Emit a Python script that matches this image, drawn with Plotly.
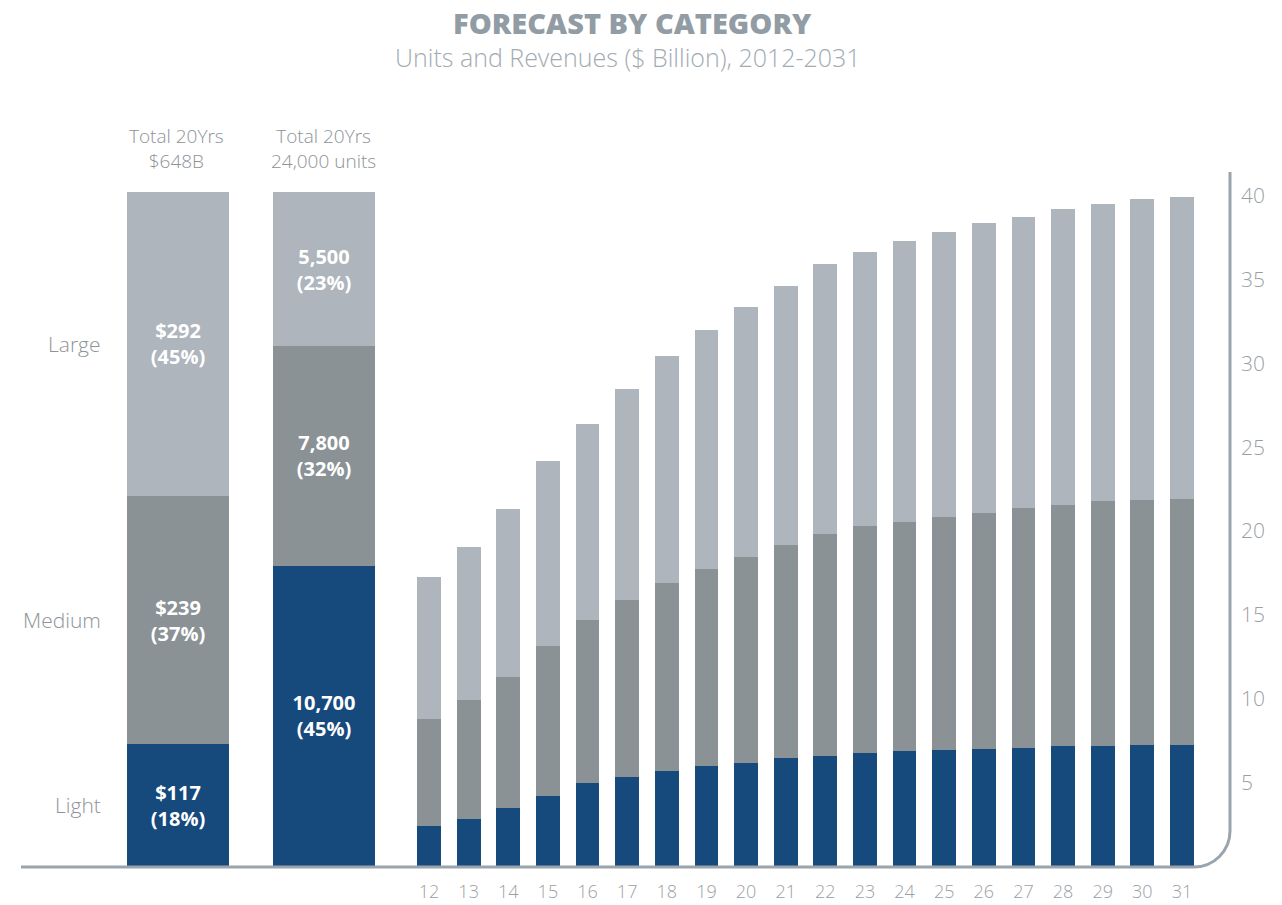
import plotly.graph_objects as go

# ---- data -------------------------------------------------------------
categories = ["Light", "Medium", "Large"]

# 20-year totals per category
revenue_totals = [117, 239, 292]        # $ billion
unit_totals = [10700, 7800, 5500]       # units

# yearly forecast ($ billion), 2012-2031
years = ["12", "13", "14", "15", "16", "17", "18", "19", "20", "21",
         "22", "23", "24", "25", "26", "27", "28", "29", "30", "31"]
light = [2.39, 2.81, 3.46, 4.18, 4.96, 5.31, 5.67, 5.97, 6.15, 6.45,
         6.57, 6.75, 6.87, 6.93, 6.99, 7.04, 7.16, 7.16, 7.22, 7.22]
medium = [6.39, 7.10, 7.82, 8.95, 9.73, 10.57, 11.23, 11.76, 12.30, 12.71,
          13.25, 13.55, 13.67, 13.91, 14.08, 14.33, 14.39, 14.63, 14.63, 14.69]
large = [8.47, 9.13, 10.03, 11.05, 11.70, 12.60, 13.55, 14.27, 14.92, 15.47,
         16.12, 16.36, 16.77, 17.01, 17.32, 17.38, 17.70, 17.73, 17.97, 18.03]
yearly = [light, medium, large]

y_ticks = [5, 10, 15, 20, 25, 30, 35, 40]

# ---- styling ------------------------------------------------------------
colors = ["#174a7c", "#8a9296", "#aeb5bd"]
label_grey = "#8e9398"
axis_grey = "#9aa4ad"
FONT = "Open Sans"

W, H = 1282, 905
L, R, T, B = 20, 54, 172, 39          # plot-area margins (px)
PW, PH = W - L - R, H - T - B
PX_PER_UNIT = 16.75


def px(x):
    return (x - L) / PW


def py(y):
    return (H - B - y) / PH


def note(text, x, y, size, color, weight=300, xanchor="center", yref="paper"):
    fig.add_annotation(
        x=x, xref="paper", y=y, yref=yref, text=text, showarrow=False,
        xanchor=xanchor, yanchor="middle", borderpad=0,
        font=dict(family=FONT, size=size, color=color, weight=weight),
    )


rev_sum = sum(revenue_totals)
unit_sum = sum(unit_totals)
summary_x = ["Revenue", "Units"]

fig = go.Figure()

# summary bars: category shares of the 20-year totals
for i, cat in enumerate(categories):
    r_share = revenue_totals[i] / rev_sum
    u_share = unit_totals[i] / unit_sum
    texts = [
        f"${revenue_totals[i]}<br>({round(r_share * 100)}%)",
        f"{unit_totals[i]:,}<br>({round(u_share * 100)}%)",
    ]
    fig.add_trace(go.Bar(
        x=summary_x, y=[r_share, u_share], name=cat,
        xaxis="x", yaxis="y2", width=0.7,
        marker=dict(color=colors[i], line=dict(width=0)),
        text=texts, textposition="inside", insidetextanchor="middle",
        textangle=0, constraintext="none",
        textfont=dict(family=FONT, size=20, color="white", weight="bold"),
        showlegend=False, hoverinfo="skip",
    ))

# yearly stacked bars
for i, cat in enumerate(categories):
    fig.add_trace(go.Bar(
        x=years, y=yearly[i], name=cat,
        xaxis="x2", yaxis="y", width=0.6,
        marker=dict(color=colors[i], line=dict(width=0)),
        showlegend=False,
    ))

# category labels beside the revenue bar
cum = 0
for i, cat in enumerate(categories):
    share = revenue_totals[i] / rev_sum
    note(cat, px(102), cum + share / 2, 21, label_grey,
         xanchor="right", yref="y2")
    cum += share

# headers over the summary bars
note(f"Total 20Yrs<br>${rev_sum}B", px(176), py(148), 19, label_grey)
note(f"Total 20Yrs<br>{unit_sum:,} units", px(323), py(148), 19, label_grey)

# title and subtitle
note("FORECAST BY CATEGORY", px(632), py(22), 29, "#929ca5", weight=800)
note("Units and Revenues ($ Billion), 2012-2031", px(628), py(57), 25,
     "#a3abb2")

# baseline with rounded corner into the right-hand axis
x0, x1, yb, yt, rad = 21, 1230, 867, 172, 36
k = 0.552 * rad
path = (
    f"M {px(x0)},{py(yb)} L {px(x1 - rad)},{py(yb)} "
    f"C {px(x1 - rad + k)},{py(yb)} {px(x1)},{py(yb - rad + k)} {px(x1)},{py(yb - rad)} "
    f"L {px(x1)},{py(yt)}"
)
fig.add_shape(type="path", path=path, xref="paper", yref="paper",
              line=dict(color=axis_grey, width=3), layer="above")

cat_w = 146.0
yr_w = 39.63
fig.update_layout(
    width=W, height=H,
    margin=dict(l=L, r=R, t=T, b=B, autoexpand=False),
    paper_bgcolor="white", plot_bgcolor="white",
    barmode="stack",
    xaxis=dict(domain=[px(178 - cat_w / 2), px(324 + cat_w / 2)],
               range=[-0.5, 1.5], showticklabels=False, showgrid=False,
               zeroline=False, showline=False, fixedrange=True,
               automargin=False),
    yaxis2=dict(domain=[0, py(192)], range=[0, 1], anchor="x",
                showticklabels=False, showgrid=False, zeroline=False,
                showline=False, automargin=False),
    xaxis2=dict(domain=[px(429 - yr_w / 2), px(429 + 19.5 * yr_w)],
                range=[-0.5, 19.5], anchor="y", showgrid=False,
                zeroline=False, showline=False, ticks="",
                ticklabelstandoff=13, automargin=False,
                tickfont=dict(family=FONT, size=18, color="#9a9fa4", weight=300)),
    yaxis=dict(range=[0, PH / PX_PER_UNIT], side="right", anchor="free",
               position=1.0, tickvals=y_ticks, showgrid=False,
               zeroline=False, showline=False, ticks="",
               ticklabelstandoff=12, automargin=False,
               tickfont=dict(family=FONT, size=21, color="#9a9fa4", weight=300)),
    font=dict(family=FONT),
)

fig.write_html("out.html")
